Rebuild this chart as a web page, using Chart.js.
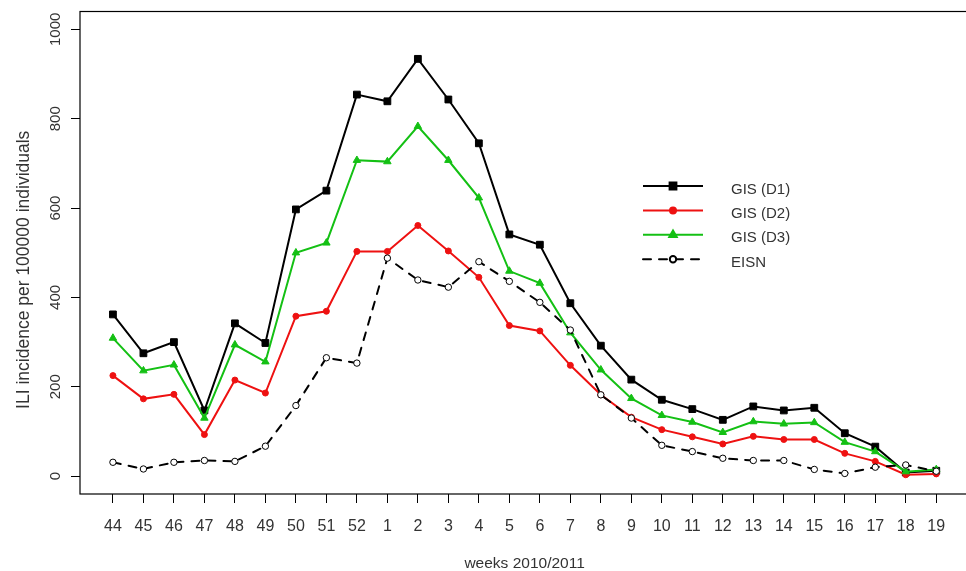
<!DOCTYPE html>
<html>
<head>
<meta charset="utf-8">
<script src="https://cdn.jsdelivr.net/npm/chart.js@4/dist/chart.umd.min.js"></script>
<style>
  html, body { margin: 0; padding: 0; background: #fff; overflow: hidden; }
  #wrap { width: 966px; height: 571px; overflow: hidden; position: relative; }
  canvas { display: block; }
</style>
</head>
<body>
<div id="wrap"><canvas id="chart" width="975" height="571" style="width:975px;height:571px"></canvas></div>
<script>
// weeks of the 2010/2011 season
const weeks = ["44", "45", "46", "47", "48", "49", "50", "51", "52", "1", "2", "3", "4", "5",
  "6", "7", "8", "9", "10", "11", "12", "13", "14", "15", "16", "17", "18", "19"];

const yTicks = [0, 200, 400, 600, 800, 1000];

const gisD1 = [362, 275, 300, 147, 342, 298, 597, 639, 854, 839, 934, 843, 745, 541,
  518, 387, 292, 216, 171, 150, 126, 156, 147, 153, 96, 66, 8, 12];
const gisD2 = [225, 173, 183, 93, 215, 186, 358, 369, 503, 503, 561, 504, 445, 337,
  325, 248, 182, 132, 104, 88, 72, 89, 82, 82, 51, 33, 3, 5];
const gisD3 = [309, 236, 249, 130, 294, 256, 500, 522, 707, 704, 783, 707, 623, 459,
  432, 321, 238, 174, 136, 121, 98, 122, 117, 120, 76, 55, 10, 15];
const eisn = [31, 16, 31, 35, 33, 67, 158, 265, 253, 488, 439, 423, 480, 436,
  389, 327, 182, 130, 69, 55, 40, 35, 35, 15, 6, 20, 25, 11];

const FONT = "'Liberation Sans', Arial, sans-serif";
const TEXT = "#333";
Chart.defaults.font.family = FONT;

function toPoints(values) {
  return values.map((v, i) => ({ x: i, y: v }));
}

// box around the plot region (R style frame)
const framePlugin = {
  id: "frame",
  beforeDatasetsDraw(chart) {
    const { ctx, chartArea } = chart;
    ctx.save();
    ctx.strokeStyle = "#000";
    ctx.lineWidth = 1.2;
    ctx.strokeRect(chartArea.left, chartArea.top, chartArea.right - chartArea.left, chartArea.bottom - chartArea.top);
    ctx.restore();
  },
};

// legend without box, like legend(..., bty = "n")
const legendPlugin = {
  id: "rlegend",
  afterDraw(chart) {
    const ctx = chart.ctx;
    const x0 = 643, x1 = 703, xm = 673, xt = 731;
    chart.data.datasets.forEach((ds, i) => {
      const y = 186 + i * 24.4;
      ctx.save();
      ctx.strokeStyle = ds.borderColor;
      ctx.lineWidth = ds.borderWidth;
      ctx.lineCap = ds.borderCapStyle || "butt";
      ctx.setLineDash(ds.borderDash || []);
      ctx.beginPath();
      ctx.moveTo(x0, y);
      ctx.lineTo(x1, y);
      ctx.stroke();
      ctx.setLineDash([]);
      ctx.fillStyle = ds.pointBackgroundColor;
      ctx.strokeStyle = ds.pointBorderColor;
      Chart.helpers.drawPoint(ctx, {
        pointStyle: ds.pointStyle,
        radius: ds.pointRadius,
        rotation: 0,
        borderWidth: ds.pointBorderWidth,
      }, xm, y);
      ctx.fillStyle = TEXT;
      ctx.font = "15px " + FONT;
      ctx.textBaseline = "middle";
      ctx.textAlign = "left";
      ctx.fillText(ds.label, xt, y + 3.5);
      ctx.restore();
    });
  },
};

new Chart(document.getElementById("chart"), {
  type: "line",
  data: {
    datasets: [
      {
        label: "GIS (D1)",
        data: toPoints(gisD1),
        borderColor: "#000000",
        borderWidth: 2,
        pointStyle: "rect",
        pointRadius: 4.8,
        pointBorderWidth: 1,
        pointBackgroundColor: "#000000",
        pointBorderColor: "#000000",
        order: 4,
      },
      {
        label: "GIS (D2)",
        data: toPoints(gisD2),
        borderColor: "#ee1111",
        borderWidth: 2,
        pointStyle: "circle",
        pointRadius: 3,
        pointBorderWidth: 1,
        pointBackgroundColor: "#ee1111",
        pointBorderColor: "#ee1111",
        order: 3,
      },
      {
        label: "GIS (D3)",
        data: toPoints(gisD3),
        borderColor: "#14c014",
        borderWidth: 2,
        pointStyle: "triangle",
        pointRadius: 4.3,
        pointBorderWidth: 1,
        pointBackgroundColor: "#14c014",
        pointBorderColor: "#14c014",
        order: 2,
      },
      {
        label: "EISN",
        data: toPoints(eisn),
        borderColor: "#000000",
        borderWidth: 2,
        borderDash: [8, 8],
        borderCapStyle: "round",
        pointStyle: "circle",
        pointRadius: 3.2,
        pointBorderWidth: 1,
        pointBackgroundColor: "#ffffff",
        pointBorderColor: "#000000",
        order: 1,
      },
    ],
  },
  options: {
    responsive: false,
    animation: false,
    layout: { padding: { top: 11.5, left: 0, right: 0, bottom: 0 } },
    elements: { line: { tension: 0 } },
    plugins: {
      legend: { display: false },
      tooltip: { enabled: false },
    },
    scales: {
      x: {
        type: "linear",
        min: -1.08,
        max: weeks.length - 1 + 1.08,
        afterBuildTicks: (scale) => {
          scale.ticks = weeks.map((w, i) => ({ value: i }));
        },
        afterFit: (scale) => {
          scale.height = 77;
        },
        ticks: {
          autoSkip: false,
          maxRotation: 0,
          minRotation: 0,
          padding: 14,
          color: TEXT,
          font: { size: 16 },
          callback: (value) => weeks[value],
        },
        grid: { drawOnChartArea: false, tickLength: 9, color: "#000", tickColor: "#000", tickWidth: 1 },
        border: { display: false },
        title: {
          display: true,
          text: "weeks 2010/2011",
          color: TEXT,
          padding: 0,
          font: { size: 15.5, lineHeight: 1 },
        },
      },
      y: {
        type: "linear",
        min: -40,
        max: 1040,
        afterBuildTicks: (scale) => {
          scale.ticks = yTicks.map((v) => ({ value: v }));
        },
        afterFit: (scale) => {
          scale.width = 80;
        },
        ticks: {
          minRotation: 90,
          maxRotation: 90,
          crossAlign: "center",
          padding: -2,
          color: TEXT,
          font: { size: 15 },
          callback: (value) => String(value),
        },
        grid: { drawOnChartArea: false, tickLength: 9, color: "#000", tickColor: "#000", tickWidth: 1 },
        border: { display: false },
        title: {
          display: true,
          // trailing spaces shift the label down a little, as in the original
          text: "ILI incidence per 100000 individuals       ",
          color: TEXT,
          padding: { top: 15, bottom: 0 },
          font: { size: 17.5, lineHeight: 1 },
        },
      },
    },
  },
  plugins: [framePlugin, legendPlugin],
});
</script>
</body>
</html>
